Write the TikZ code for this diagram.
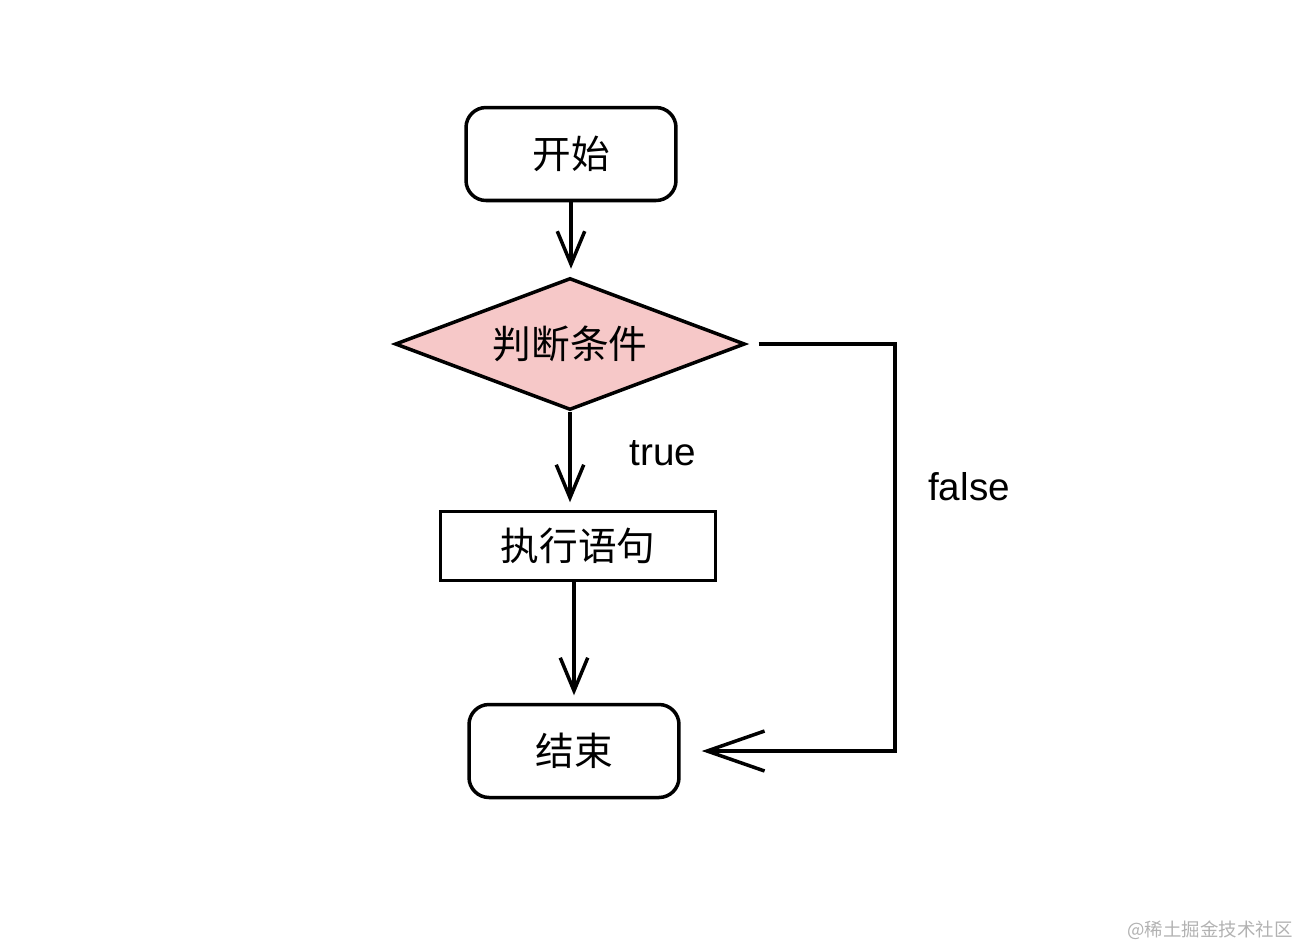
\documentclass[tikz,border=0pt]{standalone}
\usepackage{fontspec}
\setmainfont{Liberation Sans}
\newfontfamily\cjk{Noto Sans CJK SC}
\usetikzlibrary{positioning, arrows.meta, shapes.geometric}
\definecolor{condpink}{RGB}{246,200,200}
\definecolor{markgray}{RGB}{178,178,178}

\begin{document}
\begin{tikzpicture}[x=0.02cm, y=-0.02cm, line width=2pt,
  font=\fontsize{22}{26}\selectfont,
  terminal/.style={draw, rounded corners=0.4cm, minimum width=4.2cm, minimum height=1.86cm, font=\cjk\fontsize{22}{26}\selectfont},
  process/.style={draw, minimum width=5.5cm, minimum height=1.38cm, font=\cjk\fontsize{22}{26}\selectfont},
  cond/.style={draw, diamond, fill=condpink, inner sep=0pt, aspect=2.65, minimum width=7cm, minimum height=2.64cm, font=\cjk\fontsize{22}{26}\selectfont},
  flow/.style={-{Straight Barb[length=0.66cm, width=0.55cm, line width=2pt]}, shorten >=0.15cm},
  backflow/.style={-{Straight Barb[length=1.15cm, width=0.8cm, line width=2pt]}, shorten <=0.24cm, shorten >=0.42cm}]
  \useasboundingbox (0,0) rectangle (1294,948);
  % flow nodes
  \node[terminal] (start) at (571,154) {开始};
  \node[cond] (cond) at (570,344) {判断条件};
  \node[process] (body) at (578,546) {执行语句};
  \node[terminal] (stop) at (574,751) {结束};
  \node (truelbl) at (663,453) {true};
  \node (falselbl) at (969,487) {false};
  \coordinate (loop) at (895,600);
  % connectors
  \draw[flow] (start.south) -- (start.south |- cond.north);
  \draw[flow] (cond.south) -- (cond.south |- body.north);
  \draw[flow] (body.south -| stop.north) -- (stop.north);
  \draw[backflow] (cond.east) -| (loop) |- (stop.east);
  % watermark
  \node[markgray, font=\cjk\fontsize{10.5}{12}\selectfont] (mark) at (1210,930) {@稀土掘金技术社区};
\end{tikzpicture}
\end{document}
